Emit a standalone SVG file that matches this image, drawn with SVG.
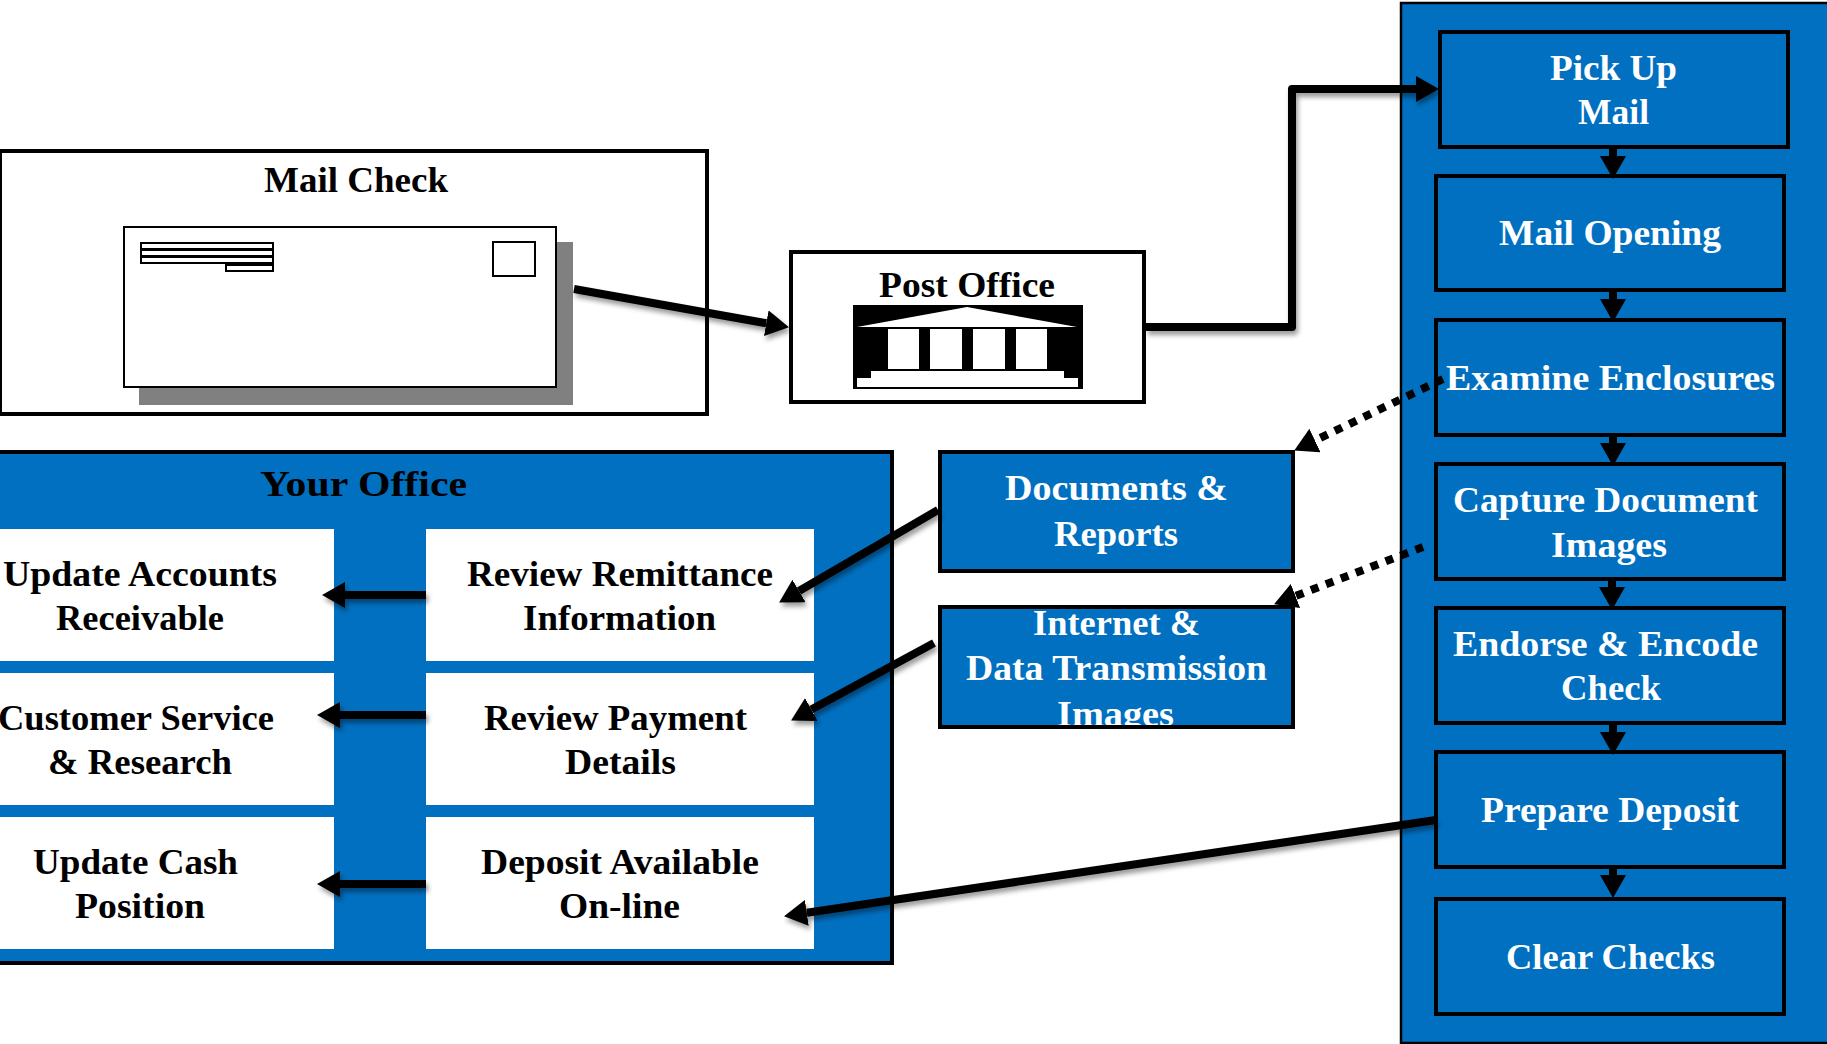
<svg xmlns="http://www.w3.org/2000/svg" width="1827" height="1044" viewBox="0 0 1827 1044">
<style>
text{font-family:"Liberation Serif","Times New Roman",serif;font-size:35px;font-weight:bold}
.w{fill:#fff}.k{fill:#000}
.blue{fill:#0170c1;stroke:#000;stroke-width:4}
.wbox{fill:#fff;stroke:none}
.plain{fill:#fff;stroke:#000;stroke-width:4}
.thin{fill:#fff;stroke:#000;stroke-width:2}
.conn{fill:none;stroke:#000;stroke-width:8;stroke-linejoin:round}
.dot{fill:none;stroke:#000;stroke-width:8;stroke-dasharray:8 8}
</style>
<defs>
<marker id="head" markerUnits="userSpaceOnUse" markerWidth="23" markerHeight="26" refX="0" refY="13" orient="auto"><path d="M0 0L23 13L0 26Z" fill="#000"/></marker>
<filter id="sh" x="0" y="0" width="1827" height="1044" filterUnits="userSpaceOnUse"><feDropShadow dx="2" dy="4" stdDeviation="2.5" flood-color="#000" flood-opacity=".4"/></filter>
</defs>
<g id="right-panel"><rect x="1401" y="3" width="430" height="1040" fill="#0170c1" stroke="#000" stroke-width="2.5"/></g>
<g id="pick-up-mail"><rect class="blue" x="1440" y="32" width="348" height="115"/>
<text class="w" x="1550" y="80" textLength="127" lengthAdjust="spacingAndGlyphs">Pick Up</text><text class="w" x="1578" y="124" textLength="71" lengthAdjust="spacingAndGlyphs">Mail</text></g>
<g id="mail-opening"><rect class="blue" x="1436" y="176" width="348" height="114"/>
<text class="w" x="1499" y="245" textLength="222" lengthAdjust="spacingAndGlyphs">Mail Opening</text></g>
<g id="examine-enclosures"><rect class="blue" x="1436" y="320" width="348" height="115"/>
<text class="w" x="1446" y="390" textLength="329" lengthAdjust="spacingAndGlyphs">Examine Enclosures</text></g>
<g id="capture-document-images"><rect class="blue" x="1436" y="464" width="348" height="115"/>
<text class="w" x="1453" y="512" textLength="305" lengthAdjust="spacingAndGlyphs">Capture Document</text><text class="w" x="1551" y="557" textLength="116" lengthAdjust="spacingAndGlyphs">Images</text></g>
<g id="endorse-encode-check"><rect class="blue" x="1436" y="608" width="348" height="115"/>
<text class="w" x="1453" y="656" textLength="305" lengthAdjust="spacingAndGlyphs">Endorse &amp; Encode</text><text class="w" x="1561" y="700" textLength="100" lengthAdjust="spacingAndGlyphs">Check</text></g>
<g id="prepare-deposit"><rect class="blue" x="1436" y="752" width="348" height="115"/>
<text class="w" x="1481" y="822" textLength="258" lengthAdjust="spacingAndGlyphs">Prepare Deposit</text></g>
<g id="clear-checks"><rect class="blue" x="1436" y="899" width="348" height="115"/>
<text class="w" x="1506" y="969" textLength="209" lengthAdjust="spacingAndGlyphs">Clear Checks</text></g>
<g id="mail-check"><rect class="plain" x="0" y="151" width="707" height="263"/>
<text class="k" x="264" y="192" textLength="184" lengthAdjust="spacingAndGlyphs">Mail Check</text>
<rect x="139" y="242" width="434" height="163" fill="#808080"/>
<rect class="thin" x="124" y="227" width="432" height="160"/>
<rect class="thin" x="141" y="243" width="132" height="6"/><rect class="thin" x="141" y="250" width="132" height="6"/><rect class="thin" x="141" y="257" width="132" height="6"/><rect class="thin" x="226" y="265" width="47" height="6"/>
<rect class="thin" x="493" y="242" width="42" height="34"/></g>
<g id="post-office"><rect class="plain" x="791" y="252" width="353" height="150"/>
<text class="k" x="879" y="297" textLength="176" lengthAdjust="spacingAndGlyphs">Post Office</text>
<rect x="853" y="305" width="230" height="84" fill="#000"/>
<path d="M857 327L967 307L1077 327Z" fill="#fff"/>
<rect class="w" x="888" y="329" width="31" height="40"/><rect class="w" x="930" y="329" width="32" height="40"/><rect class="w" x="973" y="329" width="32" height="40"/><rect class="w" x="1016" y="329" width="31" height="40"/>
<path d="M871 371H1064V378H1078V387H857V378H871Z" fill="#fff"/></g>
<g id="your-office"><rect class="blue" x="-4" y="452" width="896" height="511"/>
<text class="k" x="260" y="496" textLength="207" lengthAdjust="spacingAndGlyphs">Your Office</text></g>
<g id="update-accounts"><rect class="wbox" x="0" y="529" width="334" height="132"/>
<text class="k" x="3" y="586" textLength="274" lengthAdjust="spacingAndGlyphs">Update Accounts</text><text class="k" x="56" y="630" textLength="168" lengthAdjust="spacingAndGlyphs">Receivable</text></g>
<g id="customer-service"><rect class="wbox" x="0" y="673" width="334" height="132"/>
<text class="k" x="-2" y="730" textLength="276" lengthAdjust="spacingAndGlyphs">Customer Service</text><text class="k" x="48" y="774" textLength="184" lengthAdjust="spacingAndGlyphs">&amp; Research</text></g>
<g id="update-cash"><rect class="wbox" x="0" y="817" width="334" height="132"/>
<text class="k" x="33" y="874" textLength="205" lengthAdjust="spacingAndGlyphs">Update Cash</text><text class="k" x="75" y="918" textLength="130" lengthAdjust="spacingAndGlyphs">Position</text></g>
<g id="review-remittance"><rect class="wbox" x="426" y="529" width="388" height="132"/>
<text class="k" x="467" y="586" textLength="306" lengthAdjust="spacingAndGlyphs">Review Remittance</text><text class="k" x="523" y="630" textLength="193" lengthAdjust="spacingAndGlyphs">Information</text></g>
<g id="review-payment"><rect class="wbox" x="426" y="673" width="388" height="132"/>
<text class="k" x="484" y="730" textLength="263" lengthAdjust="spacingAndGlyphs">Review Payment</text><text class="k" x="565" y="774" textLength="111" lengthAdjust="spacingAndGlyphs">Details</text></g>
<g id="deposit-available"><rect class="wbox" x="426" y="817" width="388" height="132"/>
<text class="k" x="481" y="874" textLength="278" lengthAdjust="spacingAndGlyphs">Deposit Available</text><text class="k" x="559" y="918" textLength="121" lengthAdjust="spacingAndGlyphs">On-line</text></g>
<g id="documents-reports"><rect class="blue" x="940" y="452" width="353" height="119"/>
<text class="w" x="1005" y="500" textLength="223" lengthAdjust="spacingAndGlyphs">Documents &amp;</text><text class="w" x="1054" y="546" textLength="124" lengthAdjust="spacingAndGlyphs">Reports</text></g>
<g id="internet-data"><rect x="940" y="607" width="353" height="120" fill="#0170c1"/>
<text class="w" x="1033" y="635" textLength="167" lengthAdjust="spacingAndGlyphs">Internet &amp;</text><text class="w" x="966" y="680" textLength="301" lengthAdjust="spacingAndGlyphs">Data Transmission</text><text class="w" x="1057" y="726" textLength="117" lengthAdjust="spacingAndGlyphs">Images</text>
<rect x="940" y="607" width="353" height="120" fill="none" stroke="#000" stroke-width="4"/></g>
<g id="connectors">
<path class="conn" filter="url(#sh)" marker-end="url(#head)" d="M574 289L766.3 323.2"/>
<path class="conn" filter="url(#sh)" marker-end="url(#head)" d="M1146 327H1292V89H1416"/>
<path class="conn" filter="url(#sh)" marker-end="url(#head)" d="M938 510L799 591"/>
<path class="conn" filter="url(#sh)" marker-end="url(#head)" d="M934 643L811.3 709.5"/>
<path class="conn" filter="url(#sh)" marker-end="url(#head)" d="M1436 820L806.8 912.8"/>
<path class="conn" filter="url(#sh)" marker-end="url(#head)" d="M426 595H345"/>
<path class="conn" filter="url(#sh)" marker-end="url(#head)" d="M426 715H340"/>
<path class="conn" filter="url(#sh)" marker-end="url(#head)" d="M426 884H340"/>
<path class="dot" marker-end="url(#head)" d="M1443 379L1315 440.5"/>
<path class="dot" marker-end="url(#head)" d="M1423 547L1295.5 596"/>
<path class="conn" marker-end="url(#head)" d="M1613 147V156"/>
<path class="conn" marker-end="url(#head)" d="M1613 291V299"/>
<path class="conn" marker-end="url(#head)" d="M1613 435V443"/>
<path class="conn" marker-end="url(#head)" d="M1612 579V587"/>
<path class="conn" marker-end="url(#head)" d="M1613 723V732"/>
<path class="conn" marker-end="url(#head)" d="M1613 867V875"/>
</g>
</svg>
